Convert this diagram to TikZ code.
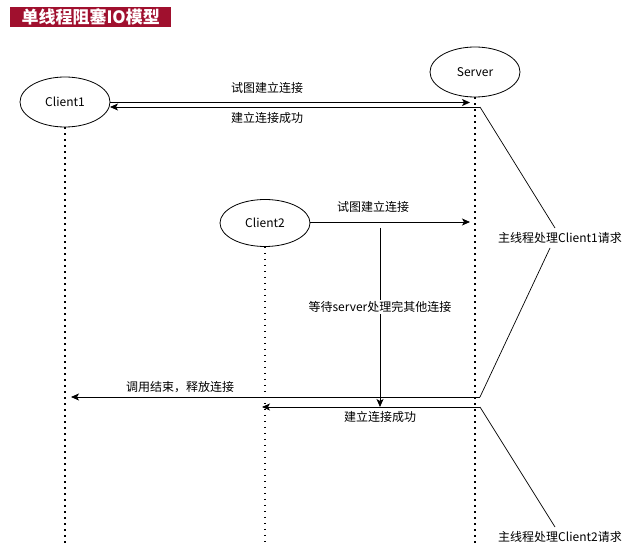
\documentclass[tikz,border=0pt]{standalone}
\usepackage{fontspec}
\setmainfont{Noto Sans CJK SC}
\usetikzlibrary{arrows.meta,shapes.geometric}
\definecolor{titlered}{HTML}{A0102E}
\tikzset{
  actor/.style={draw, ellipse, line width=0.8pt, minimum width=90pt, minimum height=50pt, inner sep=0pt, font=\fontsize{12}{14}\selectfont},
  lifeline/.style={line width=1.5pt, dash pattern=on 1.5pt off 4.5pt},
  msg/.style={line width=0.8pt, -{Stealth[length=8pt,width=7pt,inset=2pt]}},
  lbl/.style={font=\fontsize{12}{14}\selectfont, inner sep=1pt},
  bracel/.style={line width=0.7pt},
}
\begin{document}
\begin{tikzpicture}[x=1pt,y=-1pt]
\useasboundingbox (0,0) rectangle (632,545);
% title
\node[fill=titlered, text=white, font=\bfseries\fontsize{17}{19}\selectfont, minimum width=161pt, minimum height=20pt, inner sep=0pt, anchor=north west] (title) at (10,7) {单线程阻塞IO模型};
% actors
\node[actor] (c1) at (65,102) {Client1};
\node[actor] (srv) at (475,72) {Server};
\node[actor, minimum height=47pt] (c2) at (265,223) {Client2};
% lifeline ends
\coordinate (c1end) at (65,545);
\coordinate (srvend) at (475,545);
\coordinate (c2end) at (265,545);
\draw[lifeline] (c1.south) -- (c1end);
\draw[lifeline] (srv.south) -- (srvend);
\draw[lifeline] (c2.south) -- (c2end);
% message points
\coordinate (s1) at (470,102.5);
\coordinate (s1b) at (480,107);
\coordinate (c1a) at (110,102.5);
\coordinate (c1b) at (110,107);
\coordinate (s2) at (470,222);
\coordinate (c2a) at (310,222);
\coordinate (w1) at (380,228);
\coordinate (w2) at (380,407);
\coordinate (r1) at (480,397);
\coordinate (r1e) at (71,397);
\coordinate (r2) at (480,407);
\coordinate (r2e) at (262,407);
% messages
\draw[msg] (c1a) -- (s1);
\draw[msg] (s1b) -- (c1b);
\node[lbl] (t1) at (267,88) {试图建立连接};
\node[lbl] (t2) at (267,118) {建立连接成功};
\draw[msg] (c2a) -- (s2);
\node[lbl] (t3) at (373,207) {试图建立连接};
\draw[msg] (w1) -- (w2);
\node[lbl, fill=white] (t4) at (380,307) {等待server处理完其他连接};
\draw[msg] (r1) -- (r1e);
\node[lbl] (t5) at (180,387) {调用结束，释放连接};
\draw[msg] (r2) -- (r2e);
\node[lbl] (t6) at (380,417) {建立连接成功};
% brace annotations
\node[lbl] (b1) at (560,238) {主线程处理Client1请求};
\coordinate (b1a) at (555,228);
\coordinate (b1b) at (550,248);
\draw[bracel] (s1b) -- (b1a);
\draw[bracel] (b1b) -- (r1);
\node[lbl] (b2) at (560,537) {主线程处理Client2请求};
\coordinate (b2a) at (555,527);
\draw[bracel] (r2) -- (b2a);
\end{tikzpicture}
\end{document}
